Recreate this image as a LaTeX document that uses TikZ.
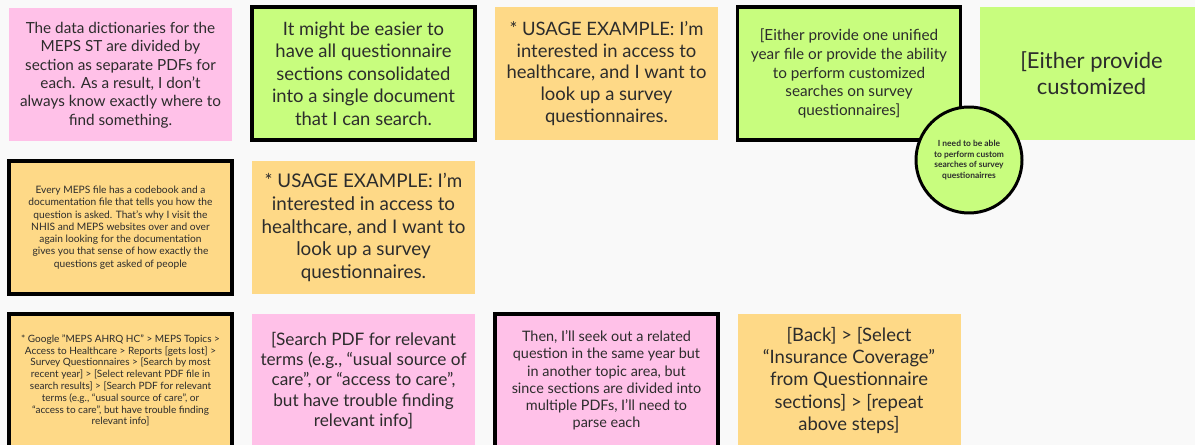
\documentclass[tikz,border=0pt]{standalone}
\usepackage{fontspec}
\setmainfont{Lato}
\usetikzlibrary{positioning}
\definecolor{notepink}{HTML}{FFC1E8}
\definecolor{notegreen}{HTML}{C8FD7E}
\definecolor{noteyellow}{HTML}{FED987}
\definecolor{boardgray}{HTML}{F9F9F9}
\definecolor{inkgray}{HTML}{2C2C2C}

\begin{document}
\begin{tikzpicture}[every node/.style={align=center, text=inkgray},
    note/.style={minimum width=\bw, minimum height=\bh, inner sep=0pt},
    framed/.style={draw=black, line width=2.2pt}]
  \def\bw{4.46cm}
  \def\bh{2.66cm}

  \fill[boardgray] (0,0) rectangle (23.9,-8.9);
  \useasboundingbox (0,0) rectangle (23.9,-8.9);
  \clip (0,0) rectangle (23.9,-8.9);

  % top row
  \node[note, fill=notepink, font={\fontsize{8.7}{10.5}\selectfont}] (dict)
      at (2.41,-1.5) {The data dictionaries for the\\MEPS ST are divided by\\section as separate PDFs for\\each. As a result, I don't\\always know exactly where to\\find something.};
  \node[note, framed, fill=notegreen, font={\fontsize{10.5}{12.75}\selectfont}] (single)
      at (7.27,-1.47) {It might be easier to\\have all questionnaire\\sections consolidated\\into a single document\\that I can search.};
  \node[note, fill=noteyellow, font={\fontsize{10.5}{12.5}\selectfont}] (usage)
      at (12.13,-1.47) {* USAGE EXAMPLE: I’m\\interested in access to\\healthcare, and I want to\\look up a survey\\questionnaires.};
  \node[note, framed, fill=notegreen, font={\fontsize{8.7}{10.6}\selectfont}] (unified)
      at (16.98,-1.47) {[Either provide one unified\\year file or provide the ability\\to perform customized\\searches on survey\\questionnaires]};
  \node[note, fill=notegreen, font={\fontsize{12.5}{14.7}\selectfont}] (custom)
      at (21.83,-1.47) {[Either provide\\customized};
  \node[circle, draw=black, line width=1.7pt, fill=notegreen, minimum size=2.12cm,
        inner sep=0pt, font={\bfseries\fontsize{4.8}{6.1}\selectfont}] (need)
      at (19.38,-3.2) {I need to be able\\to perform custom\\searches of survey\\questionairres};

  % middle row
  \node[note, framed, fill=noteyellow, font={\fontsize{5.8}{7}\selectfont}] (codebook)
      at (2.41,-4.55) {Every MEPS file has a codebook and a\\documentation file that tells you how the\\question is asked. That’s why I visit the\\NHIS and MEPS websites over and over\\again looking for the documentation\\gives you that sense of how exactly the\\questions get asked of people};
  \node[note, fill=noteyellow, font={\fontsize{10.7}{13}\selectfont}] (usagetwo)
      at (7.27,-4.55) {* USAGE EXAMPLE: I’m\\interested in access to\\healthcare, and I want to\\look up a survey\\questionnaires.};

  % bottom row
  \node[note, framed, fill=noteyellow, font={\fontsize{5.7}{6.7}\selectfont}] (google)
      at (2.41,-7.61) {* Google "MEPS AHRQ HC" > MEPS Topics >\\Access to Healthcare > Reports [gets lost] >\\Survey Questionnaires > [Search by most\\recent year] > [Select relevant PDF file in\\search results] > [Search PDF for relevant\\terms (e.g., “usual source of care”, or\\“access to care”, but have trouble finding\\relevant info]};
  \node[note, fill=notepink, font={\fontsize{9.8}{11.6}\selectfont}] (searchpdf)
      at (7.27,-7.61) {[Search PDF for relevant\\terms (e.g., “usual source of\\care”, or “access to care”,\\but have trouble finding\\relevant info]};
  \node[note, framed, fill=notepink, font={\fontsize{8.2}{9.8}\selectfont}] (related)
      at (12.13,-7.61) {Then, I’ll seek out a related\\question in the same year but\\in another topic area, but\\since sections are divided into\\multiple PDFs, I’ll need to\\parse each};
  \node[note, fill=noteyellow, font={\fontsize{10.5}{12.7}\selectfont}] (back)
      at (16.98,-7.61) {[Back] > [Select\\“Insurance Coverage”\\from Questionnaire\\sections] > [repeat\\above steps]};
\end{tikzpicture}
\end{document}
